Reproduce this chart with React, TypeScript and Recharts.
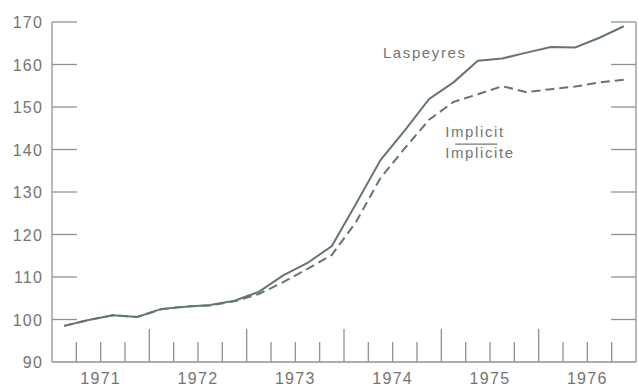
import { LineChart, Line, XAxis, YAxis, ReferenceDot } from 'recharts'

// quarter mid-points, 1971 Q1 .. 1976 Q4
const periods = [
  1971.125, 1971.375, 1971.625, 1971.875,
  1972.125, 1972.375, 1972.625, 1972.875,
  1973.125, 1973.375, 1973.625, 1973.875,
  1974.125, 1974.375, 1974.625, 1974.875,
  1975.125, 1975.375, 1975.625, 1975.875,
  1976.125, 1976.375, 1976.625, 1976.875,
]

const laspeyres = [
  98.5, 99.9, 101.0, 100.6, 102.5, 103.0, 103.4, 104.4,
  106.5, 110.4, 113.3, 117.3, 127.3, 137.5, 144.5, 151.9,
  155.8, 160.9, 161.4, 162.8, 164.1, 164.0, 166.3, 169.0,
]

const implicit = [
  98.5, 99.9, 101.0, 100.6, 102.4, 103.1, 103.3, 104.3,
  106.0, 108.8, 111.9, 115.2, 123.0, 133.3, 140.3, 147.0,
  151.2, 153.0, 154.9, 153.5, 154.2, 154.8, 155.8, 156.4,
]

const yTicks = [90, 100, 110, 120, 130, 140, 150, 160, 170]

const xTicks = [
  1971.25, 1971.5, 1971.75, 1972,
  1972.25, 1972.5, 1972.75, 1973,
  1973.25, 1973.5, 1973.75, 1974,
  1974.25, 1974.5, 1974.75, 1975,
  1975.25, 1975.5, 1975.75, 1976,
  1976.25, 1976.5, 1976.75,
]

const data = periods.map((t, i) => ({ t, laspeyres: laspeyres[i], implicit: implicit[i] }))

const INK = '#65776b'
const AXIS = '#8a968d'
const TEXT = '#737573'
const FONT = '"Liberation Sans", Arial, sans-serif'

function LeftTick(props: any) {
  const { x, y, payload } = props
  const ax = x + 9
  return (
    <g>
      {payload.value > 90 && <line x1={ax} x2={ax + 25} y1={y} y2={y} stroke={AXIS} strokeWidth={1.3} />}
      <text x={x} y={y + 6} textAnchor="end" fill={TEXT} fontSize={16} letterSpacing={1.2} fontFamily={FONT}>
        {payload.value}
      </text>
    </g>
  )
}

function RightTick(props: any) {
  const { x, y, payload } = props
  if (payload.value <= 90) return <g />
  return <line x1={x - 25} x2={x} y1={y} y2={y} stroke={AXIS} strokeWidth={1.3} />
}

function BottomTick(props: any) {
  const { x, y, payload } = props
  const v = payload.value as number
  const isYear = Number.isInteger(v)
  const isMid = v % 1 === 0.5
  return (
    <g>
      <line x1={x} x2={x} y1={y} y2={y - (isYear ? 33 : 20)} stroke={AXIS} strokeWidth={1.3} />
      {isMid && (
        <text x={x} y={y + 22} textAnchor="middle" fill={TEXT} fontSize={16} letterSpacing={1.3} fontFamily={FONT}>
          {Math.floor(v)}
        </text>
      )}
    </g>
  )
}

export default function App() {
  return (
    <div style={{ width: 638, height: 389, background: '#fff' }}>
      <style>{'body{margin:0}'}</style>
      <LineChart width={638} height={389} data={data} margin={{ top: 22, right: 0, left: 0, bottom: 0 }}>
        <XAxis
          dataKey="t"
          type="number"
          domain={[1971, 1977]}
          ticks={xTicks}
          interval={0}
          height={27}
          tickSize={0}
          tickMargin={0}
          axisLine={{ stroke: AXIS, strokeWidth: 1.3 }}
          tick={<BottomTick />}
        />
        <YAxis
          yAxisId="l"
          domain={[90, 170]}
          ticks={yTicks}
          interval={0}
          width={52}
          tickSize={0}
          tickMargin={9}
          axisLine={{ stroke: AXIS, strokeWidth: 1.3 }}
          tick={<LeftTick />}
        />
        <YAxis
          yAxisId="r"
          orientation="right"
          domain={[90, 170]}
          ticks={yTicks}
          interval={0}
          width={2}
          tickSize={0}
          tickMargin={0}
          allowDataOverflow
          axisLine={{ stroke: AXIS, strokeWidth: 1.3 }}
          tick={<RightTick />}
        />
        <Line
          yAxisId="l"
          dataKey="implicit"
          type="linear"
          stroke={INK}
          strokeWidth={2}
          strokeDasharray="9 5"
          dot={false}
          isAnimationActive={false}
        />
        <Line
          yAxisId="l"
          dataKey="laspeyres"
          type="linear"
          stroke={INK}
          strokeWidth={2}
          dot={false}
          isAnimationActive={false}
        />
        <ReferenceDot
          yAxisId="l"
          x={1974.4}
          y={161.5}
          r={0}
          shape={(p: any) => (
            <text x={p.cx} y={p.cy} fill={TEXT} fontSize={15} letterSpacing={1.6} fontFamily={FONT}>
              Laspeyres
            </text>
          )}
        />
        <ReferenceDot
          yAxisId="l"
          x={1975.04}
          y={142.9}
          r={0}
          shape={(p: any) => (
            <g>
              <text x={p.cx} y={p.cy} fill={TEXT} fontSize={15} letterSpacing={1.6} fontFamily={FONT}>
                Implicit
              </text>
              <line x1={p.cx + 10} x2={p.cx + 52} y1={p.cy + 7} y2={p.cy + 7} stroke={TEXT} strokeWidth={1.2} />
              <text x={p.cx} y={p.cy + 21} fill={TEXT} fontSize={15} letterSpacing={1.6} fontFamily={FONT}>
                Implicite
              </text>
            </g>
          )}
        />
      </LineChart>
    </div>
  )
}
